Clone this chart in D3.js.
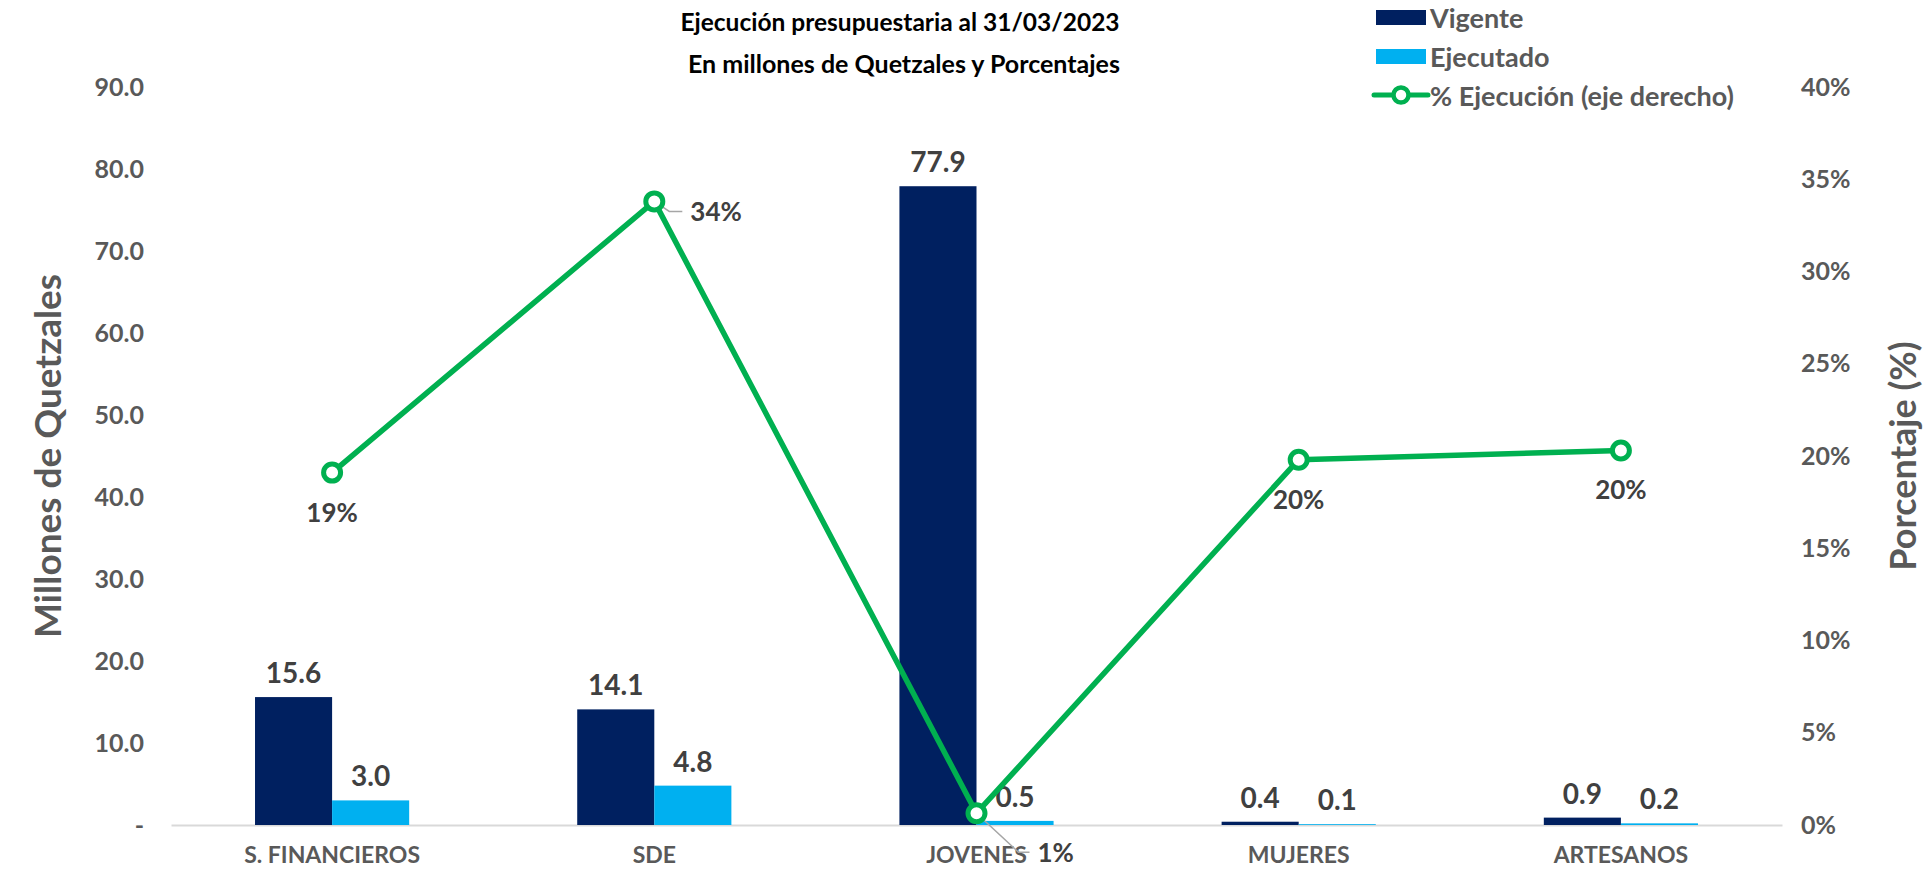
<!DOCTYPE html>
<html>
<head>
<meta charset="utf-8">
<title>Ejecución presupuestaria</title>
<script src="https://cdn.jsdelivr.net/npm/d3@7/dist/d3.min.js"></script>
<style>
  body { margin: 0; background: #fff; }
  svg text { font-family: Lato, "Open Sans", sans-serif; font-weight: 700; }
</style>
</head>
<body>
<svg id="chart"></svg>
<script>
// data
const categories = ["S. FINANCIEROS", "SDE", "JOVENES", "MUJERES", "ARTESANOS"];
const vigente = [15.6, 14.1, 77.9, 0.4, 0.9];
const ejecutado = [3.0, 4.8, 0.5, 0.1, 0.2];
const porcentaje = [0.191, 0.338, 0.0064, 0.198, 0.203];
const leftTicks = [0, 10, 20, 30, 40, 50, 60, 70, 80, 90];
const rightTicks = [0, 0.05, 0.10, 0.15, 0.20, 0.25, 0.30, 0.35, 0.40];
const seriesNames = ["Vigente", "Ejecutado", "% Ejecución (eje derecho)"];
// where each % label sits relative to its point
const pctLabelPlace = ["below", "right", "leader", "below", "below"];

class ComboChart {
    constructor(_config) {
        this.config = {
            parentElement: _config.parentElement,
            containerWidth: _config.containerWidth || 1926,
            containerHeight: _config.containerHeight || 869,
            margin: { top: 87, bottom: 44, right: 144, left: 171 }
        };
        this.initVis();
    }

    initVis() {
        let vis = this;
        vis.width = vis.config.containerWidth - vis.config.margin.left - vis.config.margin.right;
        vis.height = vis.config.containerHeight - vis.config.margin.top - vis.config.margin.bottom;

        vis.colors = { Vigente: "#002060", Ejecutado: "#00B0F0", line: "#00B050" };

        vis.x0 = d3.scaleBand().domain(categories).range([0, vis.width]).padding(0);
        vis.x1 = d3.scaleBand().domain(["Vigente", "Ejecutado"])
            .range([0, vis.x0.bandwidth()])
            .paddingInner(0)
            .paddingOuter(1.09);

        vis.yLeft = d3.scaleLinear().domain([0, 90]).range([vis.height, 0]);
        vis.yRight = d3.scaleLinear().domain([0, 0.4]).range([vis.height, 0]);

        vis.svg = d3.select(vis.config.parentElement)
            .attr("width", vis.config.containerWidth)
            .attr("height", vis.config.containerHeight);

        vis.chart = vis.svg.append("g")
            .attr("transform", `translate(${vis.config.margin.left},${vis.config.margin.top})`);

        vis.renderVis();
    }

    renderVis() {
        let vis = this;
        const m = vis.config.margin;

        // title
        vis.svg.append("text")
            .attr("x", 900).attr("y", 31)
            .attr("text-anchor", "middle")
            .style("font-size", "24.5px").style("fill", "#000")
            .text("Ejecución presupuestaria al 31/03/2023");
        vis.svg.append("text")
            .attr("x", 904).attr("y", 73)
            .attr("text-anchor", "middle")
            .style("font-size", "25px").style("fill", "#000")
            .text("En millones de Quetzales y Porcentajes");

        // left axis
        const yAxisL = d3.axisLeft(vis.yLeft)
            .tickValues(leftTicks)
            .tickSize(0).tickPadding(27)
            .tickFormat(d => d === 0 ? "-" : d3.format(".1f")(d));
        const gL = vis.chart.append("g").attr("class", "axis y-left").call(yAxisL);
        gL.select(".domain").remove();
        gL.selectAll("text").style("font-size", "25px").style("fill", "#595959")
            .style("font-family", "Lato").style("font-weight", 700);

        // right axis
        const yAxisR = d3.axisRight(vis.yRight)
            .tickValues(rightTicks)
            .tickSize(0).tickPadding(19)
            .tickFormat(d3.format(".0%"));
        const gR = vis.chart.append("g").attr("class", "axis y-right")
            .attr("transform", `translate(${vis.width},0)`).call(yAxisR);
        gR.select(".domain").remove();
        gR.selectAll("text").style("font-size", "25px").style("fill", "#595959")
            .style("font-family", "Lato").style("font-weight", 700);

        // x axis
        const xAxis = d3.axisBottom(vis.x0).tickSize(0).tickPadding(22);
        const gX = vis.chart.append("g").attr("class", "axis x-axis")
            .attr("transform", `translate(0,${vis.height})`).call(xAxis);
        gX.select(".domain").attr("stroke", "#D9D9D9").attr("stroke-width", 2);
        gX.selectAll("text").style("font-size", "23px").style("fill", "#595959")
            .style("font-family", "Lato").style("font-weight", 700);

        // axis titles
        vis.svg.append("text")
            .attr("transform", `translate(61,${m.top + vis.height / 2}) rotate(-90)`)
            .attr("text-anchor", "middle")
            .style("font-size", "37px").style("fill", "#595959")
            .text("Millones de Quetzales");
        vis.svg.append("text")
            .attr("transform", `translate(1916,${m.top + vis.height / 2}) rotate(-90)`)
            .attr("text-anchor", "middle")
            .style("font-size", "36px").style("fill", "#595959")
            .text("Porcentaje (%)");

        // bars
        const rows = categories.map((c, i) => ({ cat: c, Vigente: vigente[i], Ejecutado: ejecutado[i] }));
        const groups = vis.chart.selectAll(".cat")
            .data(rows)
            .join("g")
            .attr("class", "cat")
            .attr("transform", d => `translate(${vis.x0(d.cat)},0)`);

        const barData = d => ["Vigente", "Ejecutado"].map(k => ({ key: k, value: d[k] }));

        groups.selectAll("rect")
            .data(barData)
            .join("rect")
            .attr("x", d => vis.x1(d.key))
            .attr("y", d => vis.yLeft(d.value))
            .attr("width", vis.x1.bandwidth())
            .attr("height", d => vis.height - vis.yLeft(d.value))
            .attr("fill", d => vis.colors[d.key]);

        groups.selectAll(".bar-label")
            .data(barData)
            .join("text")
            .attr("class", "bar-label")
            .attr("x", d => vis.x1(d.key) + vis.x1.bandwidth() / 2)
            .attr("y", d => vis.yLeft(d.value) - 25)
            .attr("text-anchor", "middle")
            .attr("dominant-baseline", "central")
            .style("font-size", "28px").style("fill", "#404040")
            .text(d => d3.format(".1f")(d.value));

        // line on right axis
        const pts = categories.map((c, i) => ({
            cat: c,
            x: vis.x0(c) + vis.x0.bandwidth() / 2,
            y: vis.yRight(porcentaje[i]),
            v: porcentaje[i],
            place: pctLabelPlace[i]
        }));

        const line = d3.line().x(d => d.x).y(d => d.y);
        vis.chart.append("path")
            .datum(pts)
            .attr("d", line)
            .attr("fill", "none")
            .attr("stroke", vis.colors.line)
            .attr("stroke-width", 5.5)
            .attr("stroke-linejoin", "round");

        // leader lines
        vis.chart.selectAll(".leader")
            .data(pts.filter(d => d.place !== "below"))
            .join("polyline")
            .attr("class", "leader")
            .attr("fill", "none")
            .attr("stroke", "#A6A6A6")
            .attr("stroke-width", 1.5)
            .attr("points", d => d.place === "right"
                ? `${d.x},${d.y} ${d.x + 15},${d.y + 10} ${d.x + 28},${d.y + 10}`
                : `${d.x},${d.y} ${d.x + 42},${d.y + 39} ${d.x + 53},${d.y + 39}`);

        vis.chart.selectAll(".marker")
            .data(pts)
            .join("circle")
            .attr("class", "marker")
            .attr("cx", d => d.x)
            .attr("cy", d => d.y)
            .attr("r", 8.5)
            .attr("fill", "#fff")
            .attr("stroke", vis.colors.line)
            .attr("stroke-width", 5);

        vis.chart.selectAll(".pct-label")
            .data(pts)
            .join("text")
            .attr("class", "pct-label")
            .attr("x", d => d.place === "below" ? d.x : d.place === "right" ? d.x + 36 : d.x + 61)
            .attr("y", d => d.place === "below" ? d.y + 39 : d.place === "right" ? d.y + 10 : d.y + 39)
            .attr("text-anchor", d => d.place === "below" ? "middle" : "start")
            .attr("dominant-baseline", "central")
            .style("font-size", "26px").style("fill", "#404040")
            .text(d => d3.format(".0%")(d.v));

        // legend
        const legend = vis.svg.append("g").attr("class", "legend");
        const legY = [17, 56, 95];
        seriesNames.forEach((name, i) => {
            const g = legend.append("g").attr("transform", `translate(1374,${legY[i]})`);
            if (i < 2) {
                g.append("rect")
                    .attr("x", 2).attr("y", -7)
                    .attr("width", 50).attr("height", 15)
                    .attr("fill", i === 0 ? vis.colors.Vigente : vis.colors.Ejecutado);
            } else {
                g.append("line")
                    .attr("x1", 0).attr("x2", 54).attr("y1", 0).attr("y2", 0)
                    .attr("stroke", vis.colors.line).attr("stroke-width", 5)
                    .attr("stroke-linecap", "round");
                g.append("circle")
                    .attr("cx", 27).attr("cy", 0).attr("r", 7.5)
                    .attr("fill", "#fff")
                    .attr("stroke", vis.colors.line).attr("stroke-width", 4.5);
            }
            g.append("text")
                .attr("x", 56).attr("y", 0)
                .attr("dominant-baseline", "central")
                .style("font-size", "27px").style("fill", "#595959")
                .text(name);
        });
    }
}

new ComboChart({ parentElement: "#chart", containerWidth: 1926, containerHeight: 869 });
</script>
</body>
</html>
